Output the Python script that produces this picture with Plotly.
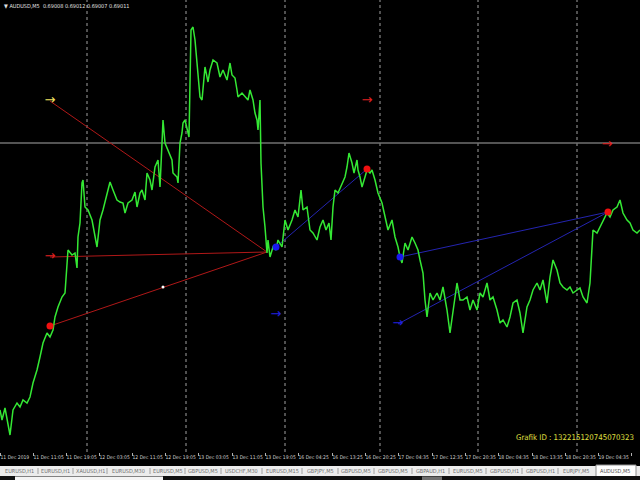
import plotly.graph_objects as go

# ---- price series (bar position, close) ----
bar_x = [0,2,5,8,10,13,17,20,23,27,30,33,37,40,43,47,50,53,55,58,62,65,67,68,72,75,77,78,80,82,83,85,88,92,97,100,
         103,107,110,113,117,120,123,125,128,132,135,137,140,142,145,147,150,152,155,158,160,162,163,165,168,172,173,177,178,180,182,183,185,187,189,191,193,195,197,198,200,
         202,203,205,208,210,213,217,220,223,227,230,232,235,237,238,242,245,248,250,253,255,257,258,260,261,262,263,265,267,268,270,273,276,278,282,
         285,288,292,295,298,301,303,307,310,313,317,320,323,326,329,331,333,335,338,342,345,347,349,352,354,357,358,360,362,365,367,370,372,375,378,382,
         385,388,392,395,398,400,402,405,408,412,415,418,420,423,425,427,430,433,437,440,443,447,450,453,457,460,463,467,470,473,477,480,483,487,490,493,497,
         500,503,507,510,513,517,520,523,527,530,533,537,540,543,547,550,553,557,560,563,567,570,573,577,580,583,587,590,592,593,597,600,603,607,610,613,617,620,623,627,630,633,637,640]
close = [0.68780,0.68760,0.68784,0.68754,0.68730,0.68780,0.68794,0.68786,0.68800,0.68794,0.68806,0.68834,0.68860,0.68886,0.68914,0.68934,0.68926,0.68940,0.68966,0.68986,0.69006,0.69014,0.69066,0.69100,0.69090,0.69094,0.69064,0.69126,0.69154,0.69234,0.69240,0.69186,0.69180,0.69160,0.69106,0.69160,
         0.69180,0.69214,0.69236,0.69220,0.69200,0.69196,0.69194,0.69174,0.69194,0.69200,0.69216,0.69186,0.69214,0.69220,0.69200,0.69254,0.69240,0.69220,0.69266,0.69280,0.69226,0.69314,0.69360,0.69314,0.69300,0.69280,0.69254,0.69246,0.69234,0.69314,0.69334,0.69354,0.69360,0.69340,0.69326,0.69540,0.69546,0.69520,0.69474,0.69460,0.69406,
         0.69400,0.69426,0.69466,0.69436,0.69460,0.69480,0.69474,0.69446,0.69460,0.69440,0.69474,0.69450,0.69444,0.69420,0.69406,0.69414,0.69406,0.69400,0.69420,0.69400,0.69374,0.69360,0.69340,0.69400,0.69274,0.69226,0.69186,0.69146,0.69094,0.69120,0.69086,0.69106,0.69100,0.69120,0.69106,
         0.69160,0.69140,0.69160,0.69180,0.69166,0.69220,0.69180,0.69186,0.69140,0.69134,0.69120,0.69146,0.69160,0.69140,0.69154,0.69120,0.69186,0.69220,0.69214,0.69234,0.69246,0.69266,0.69294,0.69274,0.69254,0.69280,0.69260,0.69246,0.69226,0.69246,0.69260,0.69254,0.69260,0.69240,0.69214,0.69194,
         0.69166,0.69140,0.69160,0.69126,0.69106,0.69086,0.69074,0.69114,0.69100,0.69126,0.69114,0.69100,0.69080,0.69054,0.69000,0.68966,0.69014,0.69000,0.69014,0.69000,0.69026,0.68980,0.68934,0.68980,0.69034,0.69000,0.69000,0.69006,0.68980,0.69000,0.68980,0.69014,0.69006,0.69034,0.69000,0.69006,0.68980,
         0.68954,0.68960,0.68946,0.68966,0.68994,0.69000,0.68974,0.68934,0.68986,0.69000,0.69020,0.69034,0.69020,0.69040,0.68994,0.69046,0.69080,0.69060,0.69034,0.69026,0.69020,0.69026,0.69014,0.69020,0.69024,0.69006,0.68994,0.69034,0.69100,0.69140,0.69134,0.69146,0.69160,0.69174,0.69166,0.69180,0.69186,0.69200,0.69174,0.69160,0.69154,0.69140,0.69134,0.69140]

# ---- time scale ----
tick_pos = [0,33,66,99,132,165,198,232,265,298,332,365,398,432,465,498,532,565,598,631]
tick_labels = ["11 Dec 2019","11 Dec 11:05","11 Dec 19:05","12 Dec 03:05","12 Dec 11:05","12 Dec 19:05",
               "13 Dec 03:05","13 Dec 11:05","13 Dec 19:05","16 Dec 04:25","16 Dec 13:25","16 Dec 20:25",
               "17 Dec 04:35","17 Dec 12:35","17 Dec 20:35","18 Dec 04:35","18 Dec 13:35","18 Dec 20:35",
               "19 Dec 04:35","19 Dec 12:35"]
day_separators = [87,186,285,380,478,577]

# ---- objects ----
hline_price = 0.69314
red_lines = [((50,0.69398),(267,0.69096)), ((50,0.69086),(267,0.69096)), ((50,0.68948),(267,0.69096))]
blue_lines = [((276,0.69106),(367,0.69262)), ((400,0.69086),(608,0.69176)), ((398,0.68952),(608,0.69176))]
red_dots_x = [50,367,608]; red_dots_y = [0.68948,0.69262,0.69176]
blue_dots_x = [276,400]; blue_dots_y = [0.69106,0.69086]
arrows_x = [50,50,367,607,276,398]
arrows_y = [0.69398,0.69086,0.69398,0.69310,0.68970,0.68952]
arrows_col = ["#f0e060","#e02020","#e02020","#e02020","#2020e0","#2020e0"]
mark_x = [163]; mark_y = [0.69026]

tabs = ["EURUSD,H1","EURUSD,H1","XAUUSD,H1","EURUSD,M30","EURUSD,M5","GBPUSD,M5","USDCHF,M30","EURUSD,M15",
        "GBPJPY,M5","GBPUSD,M5","GBPUSD,M5","GBPAUD,H1","EURUSD,M5","GBPUSD,H1","GBPUSD,H1","EURJPY,M5","AUDUSD,M5"]
tab_edges = [0,38,73,107,150,185,221,262,302,338,374,412,449,486,522,558,594,636]

NARROW = "Liberation Sans Narrow, Arial Narrow, DejaVu Sans Condensed, sans-serif"
W, H, B = 640, 480, 28
PH = H - B
def py(p):  # pixel row -> paper y
    return (PH - p) / PH
def px(p):
    return p / W

fig = go.Figure()
for (a, b) in red_lines:
    fig.add_trace(go.Scatter(x=[a[0], b[0]], y=[a[1], b[1]], mode="lines",
                             line=dict(color="#b01818", width=1), hoverinfo="skip"))
for (a, b) in blue_lines:
    fig.add_trace(go.Scatter(x=[a[0], b[0]], y=[a[1], b[1]], mode="lines",
                             line=dict(color="#2424b0", width=1), hoverinfo="skip"))
fig.add_trace(go.Scatter(x=bar_x, y=close, mode="lines", line=dict(color="#34e834", width=1.5)))
fig.add_trace(go.Scatter(x=red_dots_x, y=red_dots_y, mode="markers",
                         marker=dict(color="#f01010", size=7)))
fig.add_trace(go.Scatter(x=blue_dots_x, y=blue_dots_y, mode="markers",
                         marker=dict(color="#1818f0", size=7)))
fig.add_trace(go.Scatter(x=mark_x, y=mark_y, mode="markers", marker=dict(color="white", size=3)))
fig.add_trace(go.Scatter(x=arrows_x, y=arrows_y, mode="text", text=["→"] * len(arrows_x),
                         textfont=dict(color=arrows_col, size=13, family="DejaVu Sans")))

shapes = []
for s in day_separators:
    shapes.append(dict(type="line", xref="x", yref="paper", x0=s, x1=s, y0=0, y1=1,
                       line=dict(color="#a0a0a0", width=1, dash="dot"), layer="below"))
shapes.append(dict(type="line", xref="paper", yref="y", x0=0, x1=1, y0=hline_price, y1=hline_price,
                   line=dict(color="#707070", width=1.5), layer="below"))
# tab strip
shapes.append(dict(type="rect", xref="paper", yref="paper", x0=0, x1=1, y0=py(476), y1=py(466),
                   fillcolor="#ececec", line=dict(width=0)))
for e in tab_edges[1:-2]:
    shapes.append(dict(type="line", xref="paper", yref="paper", x0=px(e), x1=px(e), y0=py(474), y1=py(468),
                       line=dict(color="#a0a0a0", width=1)))
shapes.append(dict(type="rect", xref="paper", yref="paper", x0=px(tab_edges[-2] + 2), x1=px(tab_edges[-1]),
                   y0=py(477), y1=py(465), fillcolor="#ffffff", line=dict(color="#909090", width=1)))
shapes.append(dict(type="rect", xref="paper", yref="paper", x0=0, x1=1, y0=py(480), y1=py(476),
                   fillcolor="#101010", line=dict(width=0)))
shapes.append(dict(type="rect", xref="paper", yref="paper", x0=px(15), x1=px(163), y0=py(480), y1=py(476.5),
                   fillcolor="#f4f4f4", line=dict(width=0)))
shapes.append(dict(type="rect", xref="paper", yref="paper", x0=px(422), x1=px(442), y0=py(480), y1=py(476.5),
                   fillcolor="#707070", line=dict(width=0)))

annotations = []
for i, t in enumerate(tabs):
    annotations.append(dict(xref="paper", yref="paper", x=px((tab_edges[i] + tab_edges[i + 1]) / 2), y=py(471),
                            text=t, showarrow=False, xanchor="center", yanchor="middle",
                            font=dict(size=5.5, color="#505050" if i == len(tabs) - 1 else "#707070",
                                      family=NARROW)))
annotations.append(dict(xref="paper", yref="paper", x=px(2), y=py(6), xanchor="left", yanchor="middle",
                        text="▼ AUDUSD,M5  0.69008 0.69012 0.69007 0.69011", showarrow=False,
                        font=dict(size=5.5, color="#e0e0e0", family=NARROW)))
annotations.append(dict(xref="paper", yref="paper", x=px(636), y=py(437), xanchor="right", yanchor="middle",
                        text="Grafik ID : 132215120745070323", showarrow=False,
                        font=dict(size=7.8, color="#e0e040", family=NARROW)))

fig.update_layout(
    width=W, height=H, margin=dict(l=0, r=0, t=0, b=B, autoexpand=False),
    paper_bgcolor="black", plot_bgcolor="black", showlegend=False,
    shapes=shapes, annotations=annotations,
    xaxis=dict(range=[0, 640], showgrid=False, zeroline=False, showline=False,
               tickvals=tick_pos, ticktext=tick_labels, ticks="outside", ticklen=3, tickcolor="#b0b0b0",
               ticklabelposition="outside right", tickangle=0,
               tickfont=dict(size=5, color="#d0d0d0", family=NARROW)),
    yaxis=dict(range=[0.68696, 0.69600], visible=False, showgrid=False, zeroline=False),
)
fig.write_html("out.html", config={"displayModeBar": False},
               post_script="document.body.style.margin='0';document.body.style.overflow='hidden';")
